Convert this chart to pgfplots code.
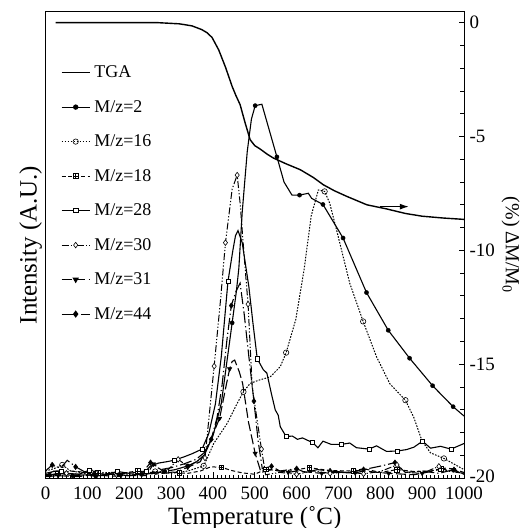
\documentclass[border=0pt]{standalone}
\usepackage{fontspec}
\setmainfont{Liberation Serif}
\usepackage{pgfplots}
\pgfplotsset{compat=1.18}
\usetikzlibrary{arrows.meta}
\pgfdeclareplotmark{boxplus}{%
  \pgfpathrectangle{\pgfqpoint{-\pgfplotmarksize}{-\pgfplotmarksize}}{\pgfqpoint{2\pgfplotmarksize}{2\pgfplotmarksize}}%
  \pgfusepathqfillstroke
  \pgfpathmoveto{\pgfqpoint{-\pgfplotmarksize}{0pt}}\pgfpathlineto{\pgfqpoint{\pgfplotmarksize}{0pt}}%
  \pgfpathmoveto{\pgfqpoint{0pt}{-\pgfplotmarksize}}\pgfpathlineto{\pgfqpoint{0pt}{\pgfplotmarksize}}%
  \pgfusepathqstroke}
\newcommand{\legfont}{\fontsize{18}{20}\selectfont}
\tikzset{
  s2/.style={black, line width=1.1bp, solid},
  s16/.style={black, line width=1bp, dash pattern=on 1.6bp off 1.4bp},
  s18/.style={black, line width=1bp, dash pattern=on 4bp off 2.5bp},
  s28/.style={black, line width=1.1bp, solid},
  s30/.style={black, line width=1bp, dash pattern=on 7bp off 2bp on 1.2bp off 2bp on 1.2bp off 2bp},
  s31/.style={black, line width=1.1bp, dash pattern=on 10bp off 3.5bp},
  s44/.style={black, line width=1.1bp, dash pattern=on 12bp off 3bp on 1.2bp off 3bp},
  m2/.style={mark=*, mark size=2.1bp, mark options={solid, fill=black}},
  m16/.style={mark=o, mark size=2.7bp, mark options={solid, fill=white, line width=0.6bp}},
  m18/.style={mark=boxplus, mark size=2.3bp, mark options={solid, fill=white, line width=0.6bp}},
  m28/.style={mark=square*, mark size=2.1bp, mark options={solid, fill=white, line width=0.6bp}},
  m30/.style={mark=diamond*, mark size=2.8bp, mark options={solid, fill=white, line width=0.6bp}},
  m31/.style={mark=triangle*, mark size=2.6bp, mark options={solid, fill=black, rotate=180}},
  m44/.style={mark=diamond*, mark size=2.8bp, mark options={solid, fill=black}},
}
\begin{document}
\begin{tikzpicture}
\begin{axis}[
  scale only axis, width=418.5bp, height=466bp,
  xmin=0, xmax=1000, ymin=0, ymax=100,
  xtick={0,100,...,1000}, minor x tick num=9, xtick pos=lower,
  ytick=\empty,
  tick align=inside, major tick length=6bp, minor tick length=3bp,
  axis line style={line width=1bp}, tick style={line width=0.8bp, black},
  /pgf/number format/assume math mode=true,
  /pgf/number format/1000 sep={},
  xticklabel style={font=\fontsize{19}{21}\selectfont, yshift=-5.5bp},
  xlabel={Temperature (\char"02DA C)},
  xlabel style={font=\fontsize{25}{27}\selectfont, yshift=0.5bp},
  ylabel={Intensity (A.U.)},
  ylabel style={font=\fontsize{25}{27}\selectfont},
  legend cell align=left,
  legend image code/.code={\path[draw=none, fill=none] (0bp,-17.25bp) rectangle (28bp,17.25bp);
    \draw[mark repeat=2, mark phase=2, #1] plot coordinates {(0bp,0bp) (14bp,0bp) (28bp,0bp)};},
  legend style={at={(axis description cs:0,1)}, anchor=north west, xshift=15.5bp, yshift=-43.35bp,
    draw=none, fill=none, inner sep=0pt, outer sep=0pt, row sep=0pt,
    font=\legfont,
    nodes={font=\legfont, inner sep=0pt},
    /tikz/column sep=4bp},
]
\coordinate (SW) at (rel axis cs:0,0);
\coordinate (NE) at (rel axis cs:1,1);
\addlegendimage{black, line width=1.4bp, solid}
\addlegendentry{TGA}
\addlegendimage{s2, m2}
\addlegendentry{M/z=2}
\addlegendimage{s16, m16}
\addlegendentry{M/z=16}
\addlegendimage{s18, m18}
\addlegendentry{M/z=18}
\addlegendimage{s28, m28}
\addlegendentry{M/z=28}
\addlegendimage{s30, m30}
\addlegendentry{M/z=30}
\addlegendimage{s31, m31}
\addlegendentry{M/z=31}
\addlegendimage{s44, m44}
\addlegendentry{M/z=44}

% M/z=18
\addplot[s18, forget plot] coordinates {(0,0.5) (30,1) (60,1.5) (100,1.2) (140,0.8) (180,1) (220,1.5) (260,0.8) (300,1.2) (340,1) (370,1.5) (395,2.4) (420,2.3) (445,1.6) (470,1.1) (500,0.8) (527,1.9) (560,1.5) (600,1.8) (630,2.2) (680,1.6) (735,1.5) (760,2.0) (800,1.2) (840,1.8) (880,1.4) (920,1.5) (945,2.0) (1000,1.0)};
\addplot[only marks, m18, forget plot] coordinates {(30,1) (125,1.1) (220,1.5) (320,1.1) (420,2.3) (527,1.9) (630,2.2) (735,1.5) (840,1.8) (945,2.0)};
% M/z=31
\addplot[s31, forget plot] coordinates {(0,0.3) (30,0.5) (80,0.3) (110,0.7) (160,0.4) (180,0.5) (240,0.5) (258,3) (280,1.5) (310,1.2) (340,2.3) (370,3.5) (395,8.3) (416,12.8) (432,20) (440,23.4) (446,25) (452,25.3) (463,22.8) (471,20.3) (485,12) (501,5.3) (515,1.2) (540,1.8) (580,1.2) (600,1.5) (660,1.0) (680,1.2) (740,1.1) (760,1.5) (820,1.0) (880,0.7) (900,1.0) (960,2.2) (975,1.8) (1000,0.8)};
\addplot[only marks, m31, forget plot] coordinates {(30,0.5) (110,0.7) (180,0.5) (258,3) (340,2.3) (416,12.8) (440,23.4) (501,5.3) (580,1.2) (660,1.0) (740,1.1) (820,1.0) (900,1.0) (975,1.8)};
% M/z=44
\addplot[s44, forget plot] coordinates {(0,1.5) (16,2.8) (36,2.1) (52,3.8) (72,2.4) (100,1) (130,0.5) (160,0.8) (200,0.5) (230,1) (251,3.3) (275,1.8) (300,2.2) (330,3) (360,4) (380,5.5) (396,8.3) (410,13) (422,20) (434,30) (444,37) (455,40) (465,41.8) (475,35) (486,26) (498,16.5) (508,8) (518,2) (540,2.5) (560,1.5) (600,2.0) (620,1.2) (650,1.8) (680,1.5) (720,1.2) (760,1.8) (803,2.6) (835,3.3) (860,1.2) (900,1.5) (940,1.0) (976,1.8) (1000,1.2)};
\addplot[only marks, m44, forget plot] coordinates {(16,2.8) (72,2.4) (251,3.3) (396,8.3) (444,37) (498,16.5) (540,2.5) (600,2.0) (680,1.5) (760,1.8) (835,3.3) (976,1.8)};
% M/z=30
\addplot[s30, forget plot] coordinates {(0,0.5) (20,1.5) (50,1) (80,0.8) (110,1.3) (140,1) (170,0.7) (200,1.2) (230,0.9) (260,1.2) (290,1.5) (317,4) (340,2.5) (360,3.5) (381,4.3) (403,24) (418,38) (430,50.5) (446,62) (458,65) (465,59) (477,45) (484,37.3) (494,19.5) (516,6.2) (526,0.7) (560,1.2) (600,0.8) (640,1.5) (680,1) (720,1.3) (760,0.9) (800,1.4) (840,2.8) (860,1.2) (900,1) (940,2.5) (960,1.5) (1000,1)};
\addplot[only marks, m30, forget plot] coordinates {(50,1) (110,1.3) (170,0.7) (230,0.9) (290,1.5) (317,4) (381,4.3) (403,24) (430,50.5) (458,65) (484,37.3) (516,6.2) (600,0.8) (680,1) (760,0.9) (840,2.8) (940,2.5)};
% M/z=28
\addplot[s28, forget plot] coordinates {(0,1) (25,1.5) (38,1.5) (50,1) (80,0.8) (105,1.7) (140,0.7) (172,1.4) (200,1) (240,1.5) (250,2.5) (270,3.2) (290,3.5) (307,3.8) (330,4.5) (350,5.2) (374,6.2) (390,9.5) (406,15.9) (420,26) (436,42.2) (448,49) (454,52) (460,53.1) (470,50.5) (486,41) (496,33) (506,25.6) (520,23.3) (529,22.5) (540,18) (549,14.6) (556,13.5) (561,11) (575,8.9) (590,9) (602,8.3) (614,8.6) (638,7.6) (651,6.5) (663,7.9) (683,7.2) (706,7.2) (727,7.5) (743,6.5) (773,6.2) (791,6.9) (815,5.7) (841,5.8) (863,6.1) (880,6.6) (901,7.9) (920,6.4) (944,6.8) (969,6.2) (1000,7.4)};
\addplot[only marks, m28, forget plot] coordinates {(38,1.5) (105,1.7) (172,1.4) (240,1.5) (307,3.8) (374,6.2) (436,42.2) (506,25.6) (575,8.9) (638,7.6) (706,7.2) (773,6.2) (841,5.8) (901,7.9) (969,6.2)};
% M/z=16
\addplot[s16, forget plot] coordinates {(0,1.5) (20,2) (40,2.8) (60,1.5) (100,1) (119,1.0) (160,1.2) (200,0.8) (240,1) (262,1.4) (300,1) (340,1.5) (378,2.6) (402,7.4) (434,11.7) (458,16) (473,18.5) (489,20.3) (510,21) (537,21.7) (561,23.9) (575,26.9) (598,34) (618,44.8) (635,56.3) (652,61.8) (667,61.5) (679,59) (695,53.4) (711,47.6) (727,41.8) (759,33.6) (791,26) (823,20.2) (860,16.7) (880,13) (900,7.9) (920,5.4) (952,4.2) (1000,1.8)};
\addplot[only marks, m16, forget plot] coordinates {(40,2.8) (119,1.0) (262,1.4) (378,2.6) (473,18.5) (575,26.9) (667,61.5) (759,33.6) (860,16.7) (952,4.2)};
% M/z=2
\addplot[s2, forget plot] coordinates {(0,0.8) (10,0.6) (40,0.9) (65,0.5) (100,0.7) (120,0.4) (150,0.8) (175,0.7) (200,0.5) (230,0.8) (260,1.0) (285,1.4) (310,1.8) (340,2.6) (360,3.4) (380,5) (400,9) (420,16) (432,24) (446,33.3) (456,40) (462,45) (470,57) (482,70) (492,77) (501,79.9) (517,80.2) (553,68.9) (570,63.5) (589,60.7) (607,60.7) (628,61.1) (636,60) (663,58.7) (711,51.5) (767,39.8) (819,31.7) (870,25.7) (925,19.8) (974,15.3) (1000,13.3)};
\addplot[only marks, m2, forget plot] coordinates {(10,0.6) (65,0.5) (120,0.4) (175,0.7) (230,0.8) (285,1.4) (340,2.6) (446,33.3) (501,79.9) (553,68.9) (607,60.7) (663,58.7) (711,51.5) (767,39.8) (819,31.7) (870,25.7) (925,19.8) (974,15.3)};
\end{axis}
\begin{axis}[
  scale only axis, width=418.5bp, height=466bp,
  xmin=0, xmax=1000, ymin=-20, ymax=0.47,
  axis x line=none, axis y line*=right,
  ytick={-20,-15,...,0}, minor y tick num=4,
  yticklabels={\raisebox{4bp}{-20},-15,-10,-5,0},
  tick align=inside, major tick length=5bp, minor tick length=4bp,
  axis line style={line width=1bp}, tick style={line width=0.8bp, black},
  /pgf/number format/assume math mode=true,
  yticklabel style={font=\fontsize{19}{21}\selectfont, anchor=west, xshift=2bp},
  ylabel={(\%) ΔM/M\textsubscript{0}},
  ylabel style={font=\fontsize{20}{22}\selectfont, rotate=180},
]
\addplot[black, line width=1.4bp] coordinates {(24,0) (150,0) (270,0) (320,-0.05) (350,-0.14) (373,-0.3) (386,-0.44) (398,-0.65) (414,-1.2) (430,-1.95) (446,-2.8) (455,-3.2) (465,-3.6) (477,-4.4) (489,-5.14) (500,-5.4) (513,-5.55) (530,-5.78) (545,-5.95) (575,-6.2) (609,-6.46) (640,-6.8) (664,-7.12) (690,-7.38) (720,-7.63) (768,-8.0) (815,-8.18) (860,-8.38) (900,-8.5) (950,-8.58) (1000,-8.64)};
\draw[-{Latex[length=9bp,width=6bp]}, line width=1.1bp] (axis cs:800,-8.08) -- (axis cs:868,-8.08);
\end{axis}
\pgfresetboundingbox
\useasboundingbox ([shift={(-45.5bp,-50bp)}]SW) rectangle ([shift={(64bp,12bp)}]NE);
\end{tikzpicture}
\end{document}
